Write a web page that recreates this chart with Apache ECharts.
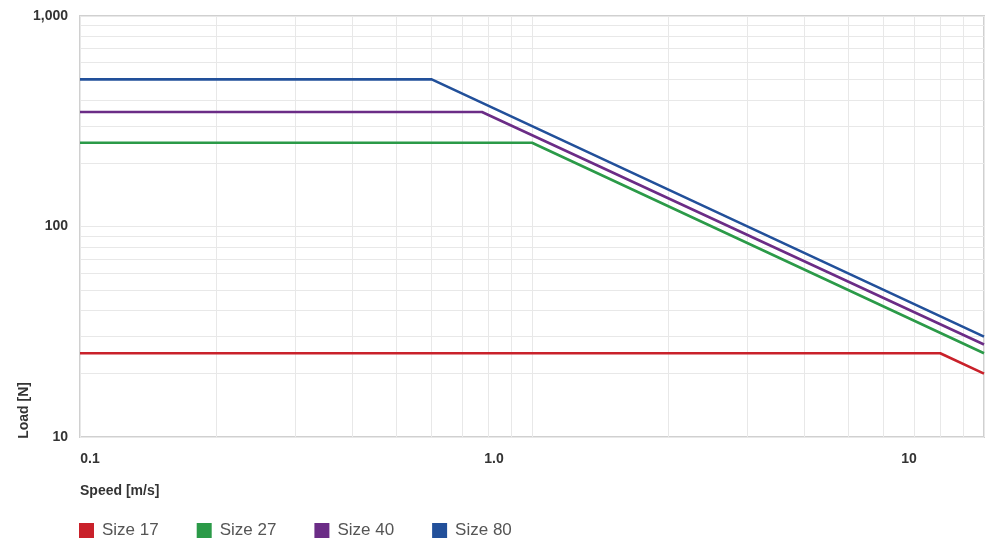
<!DOCTYPE html>
<html><head><meta charset="utf-8">
<script src="https://cdn.jsdelivr.net/npm/echarts@6/dist/echarts.min.js"></script>
<style>html,body{margin:0;padding:0;background:#fff}#c{width:998px;height:542px}</style>
</head><body><div id="c"></div>
<script>
const seriesNames = ['Size 17', 'Size 27', 'Size 40', 'Size 80'];
const seriesColors = ['#c9212a', '#2b9a48', '#6b2c86', '#22509a'];
const size17Speed = [0.1, 8, 10];
const size17Load  = [25, 25, 20];
const size27Speed = [0.1, 1.0, 10];
const size27Load  = [250, 250, 25];
const size40Speed = [0.1, 0.775, 10];
const size40Load  = [350, 350, 27.5];
const size80Speed = [0.1, 0.6, 10];
const size80Load  = [500, 500, 30];
const xTickLabels = ['0.1', '1.0', '10'];
const yTickLabels = ['10', '100', '1,000'];
const xMinorGrid = [0.2, 0.3, 0.4, 0.5, 0.6, 0.7, 0.8, 0.9, 2, 3, 4, 5, 6, 7, 8, 9];
const yMinorGrid = [20, 30, 40, 50, 60, 70, 80, 90, 200, 300, 400, 500, 600, 700, 800, 900];

const FONT = '"Liberation Sans", Arial, sans-serif';
const speeds = [size17Speed, size27Speed, size40Speed, size80Speed];
const loads = [size17Load, size27Load, size40Load, size80Load];
const pairs = (xs, ys) => xs.map((x, i) => [x, ys[i]]);
const decadeIndex = v => Math.round(Math.log10(v));

const chart = echarts.init(document.getElementById('c'), null, { renderer: 'canvas' });

const mainSeries = seriesNames.map((name, i) => ({
  name: name,
  type: 'line',
  data: pairs(speeds[i], loads[i]),
  symbol: 'none',
  lineStyle: { color: seriesColors[i], width: 2.6 },
  itemStyle: { color: seriesColors[i] },
  z: 3
}));

const gridLineSeries = {
  name: 'grid',
  type: 'line',
  data: [[0.1, 10]],
  symbol: 'none',
  lineStyle: { opacity: 0 },
  silent: true,
  z: 1,
  markLine: {
    silent: true,
    z: 1,
    symbol: 'none',
    label: { show: false },
    lineStyle: { color: '#e8e8e8', width: 1, type: 'solid' },
    emphasis: { disabled: true },
    data: xMinorGrid.map(v => ({ xAxis: v })).concat(yMinorGrid.map(v => ({ yAxis: v })))
  }
};

chart.setOption({
  animation: false,
  backgroundColor: '#ffffff',
  title: {
    text: 'Speed [m/s]',
    left: 80, top: 484, padding: 0,
    textStyle: { fontFamily: FONT, fontSize: 14, fontWeight: 'bold', color: '#333333' }
  },
  graphic: [{
    type: 'text', left: 17, top: 382, rotation: Math.PI / 2,
    style: { text: 'Load [N]', font: 'bold 14px ' + FONT, fill: '#333333' }
  }],
  legend: {
    data: seriesNames,
    left: 79, top: 522, padding: 0,
    icon: 'rect', itemWidth: 15, itemHeight: 15, itemGap: 38,
    textStyle: { fontFamily: FONT, fontSize: 17, color: '#555555', padding: [0, 0, 0, 3] }
  },
  grid: {
    left: 80, right: 14, top: 16, bottom: 105,
    show: true, borderColor: '#d0d0d0', borderWidth: 2, backgroundColor: 'transparent'
  },
  xAxis: {
    type: 'log', logBase: 10, min: 0.1, max: 10,
    axisLine: { show: false }, axisTick: { show: false },
    splitLine: { show: true, lineStyle: { color: '#e8e8e8', width: 1 } },
    axisLabel: {
      margin: 15, showMinLabel: true, showMaxLabel: true,
      fontFamily: FONT, fontSize: 14, fontWeight: 'bold', color: '#333333',
      formatter: v => { const k = decadeIndex(v) + 1; return '{t' + k + '|' + xTickLabels[k] + '}'; },
      rich: {
        t0: { fontFamily: FONT, fontSize: 14, fontWeight: 'bold', color: '#333333', padding: [0, 0, 0, 20] },
        t1: { fontFamily: FONT, fontSize: 14, fontWeight: 'bold', color: '#333333', padding: [0, 76, 0, 0] },
        t2: { fontFamily: FONT, fontSize: 14, fontWeight: 'bold', color: '#333333', padding: [0, 150, 0, 0] }
      }
    }
  },
  yAxis: {
    type: 'log', logBase: 10, min: 10, max: 1000,
    axisLine: { show: false }, axisTick: { show: false },
    splitLine: { show: true, lineStyle: { color: '#e8e8e8', width: 1 } },
    axisLabel: {
      margin: 12, showMinLabel: true, showMaxLabel: true,
      fontFamily: FONT, fontSize: 14, fontWeight: 'bold', color: '#333333',
      formatter: v => yTickLabels[decadeIndex(v) - 1]
    }
  },
  series: [gridLineSeries].concat(mainSeries)
});
</script>
</body></html>
